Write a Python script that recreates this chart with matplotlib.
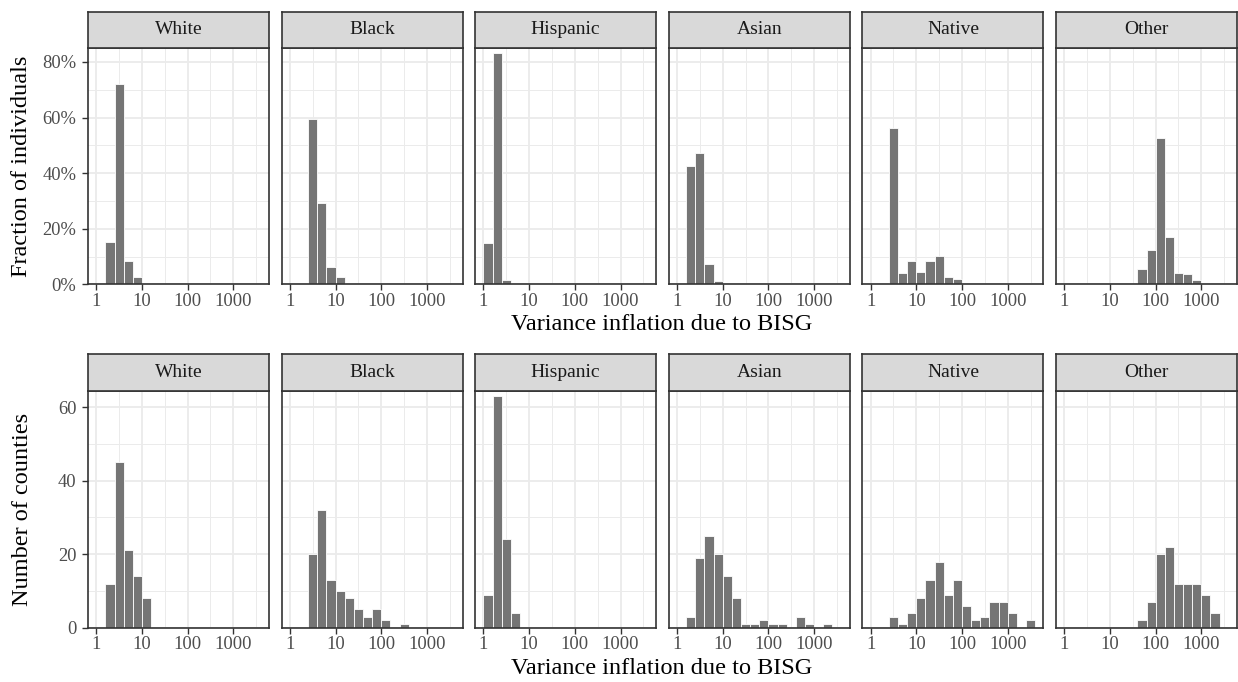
import numpy as np
import matplotlib
matplotlib.use("Agg")
import matplotlib.pyplot as plt

plt.rcParams['font.family'] = ['Liberation Serif', 'DejaVu Serif']

# groups shown in the facets
races = ['White', 'Black', 'Hispanic', 'Asian', 'Native', 'Other']

# left edges of the histogram bins, in log10(variance inflation)
log_bins = [0.0, 0.2, 0.4, 0.6, 0.8, 1.0, 1.2, 1.4, 1.6, 1.8,
            2.0, 2.2, 2.4, 2.6, 2.8, 3.0, 3.2, 3.4]
bin_width = 0.2

# top row: percent of individuals per bin
pct_white    = [0, 15.2, 72.0, 8.4, 2.7, 0.4, 0, 0, 0, 0, 0, 0, 0, 0, 0, 0, 0, 0]
pct_black    = [0, 0, 59.4, 29.3, 6.2, 2.5, 0.6, 0, 0, 0, 0, 0, 0, 0, 0, 0, 0, 0]
pct_hispanic = [14.7, 83.2, 1.4, 0, 0, 0, 0, 0, 0, 0, 0, 0, 0, 0, 0, 0, 0, 0]
pct_asian    = [0, 42.6, 47.2, 7.4, 1.2, 0.2, 0, 0, 0, 0, 0, 0, 0, 0, 0, 0, 0, 0]
pct_native   = [0, 0, 56.2, 4.1, 8.4, 4.6, 8.5, 10.3, 2.7, 1.8, 0, 0, 0, 0.1, 0, 0, 0, 0]
pct_other    = [0, 0, 0, 0, 0, 0, 0, 0, 5.6, 12.3, 52.5, 17.1, 4.1, 3.8, 1.6, 0.6, 0, 0]

# bottom row: number of counties per bin
cnt_white    = [0, 12, 45, 21, 14, 8, 0, 0, 0, 0, 0, 0, 0, 0, 0, 0, 0, 0]
cnt_black    = [0, 0, 20, 32, 13, 10, 8, 5, 3, 5, 2, 0, 1, 0, 0, 0, 0, 0]
cnt_hispanic = [9, 63, 24, 4, 0, 0, 0, 0, 0, 0, 0, 0, 0, 0, 0, 0, 0, 0]
cnt_asian    = [0, 3, 19, 25, 20, 14, 8, 1, 1, 2, 1, 1, 0, 3, 1, 0, 1, 0]
cnt_native   = [0, 0, 3, 1, 4, 8, 13, 18, 9, 13, 6, 2, 3, 7, 7, 4, 0, 2]
cnt_other    = [0, 0, 0, 0, 0, 0, 0, 0, 2, 7, 20, 22, 12, 12, 12, 9, 4, 0]

pct_rows = [pct_white, pct_black, pct_hispanic, pct_asian, pct_native, pct_other]
cnt_rows = [cnt_white, cnt_black, cnt_hispanic, cnt_asian, cnt_native, cnt_other]

x_ticks = [0, 1, 2, 3]
x_labels = ['1', '10', '100', '1000']

W, H = 1238, 682
fig = plt.figure(figsize=(W / 100, H / 100), dpi=100)


def box(x0, y0, x1, y1):
    # pixel box (top-left origin) -> figure fraction rect
    return [x0 / W, 1 - y1 / H, (x1 - x0) / W, (y1 - y0) / H]


bar_col = '#757575'
grid_col = '#EBEBEB'
frame_col = '#333333'
tick_txt = '#4D4D4D'

panel_left = 88
panel_step = 193.6
panel_w = 181

rows = [
    dict(data=pct_rows, strip=(12, 48), panel=(48, 284.3), ymax=85,
         yticks=[0, 20, 40, 60, 80], yminor=[10, 30, 50, 70],
         ylabels=['0%', '20%', '40%', '60%', '80%'],
         ytitle='Fraction of individuals', xtitle_y=325),
    dict(data=cnt_rows, strip=(354.3, 391.3), panel=(391.3, 627.7), ymax=64.3,
         yticks=[0, 20, 40, 60], yminor=[10, 30, 50],
         ylabels=['0', '20', '40', '60'],
         ytitle='Number of counties', xtitle_y=669),
]

for row in rows:
    for i, race in enumerate(races):
        x0 = panel_left + i * panel_step
        x1 = x0 + panel_w
        ax = fig.add_axes(box(x0, row['panel'][0], x1, row['panel'][1]))
        vals = row['data'][i]
        ax.bar(log_bins, vals, width=bin_width, align='edge', color=bar_col,
               edgecolor='white', linewidth=0.6, zorder=3)
        ax.set_xlim(-0.18, 3.78)
        ax.set_ylim(0, row['ymax'])
        for v in [0.5, 1.5, 2.5, 3.5]:
            ax.axvline(v, color=grid_col, lw=0.7, zorder=1)
        for v in row['yminor']:
            ax.axhline(v, color=grid_col, lw=0.7, zorder=1)
        for v in x_ticks:
            ax.axvline(v, color=grid_col, lw=1.3, zorder=1)
        for v in row['yticks']:
            ax.axhline(v, color=grid_col, lw=1.3, zorder=1)
        ax.set_xticks(x_ticks)
        ax.set_xticklabels(x_labels)
        ax.set_yticks(row['yticks'])
        if i == 0:
            ax.set_yticklabels(row['ylabels'])
            ax.tick_params(axis='y', length=4.3, width=1.0, color=frame_col,
                           labelsize=13.3, labelcolor=tick_txt, pad=4)
        else:
            ax.tick_params(axis='y', length=0, labelleft=False)
        ax.tick_params(axis='x', length=4.3, width=1.0, color=frame_col,
                       labelsize=13.3, labelcolor=tick_txt, pad=2)
        for s in ax.spines.values():
            s.set_color(frame_col)
            s.set_linewidth(1.2)
            s.set_zorder(5)

        # facet strip
        sx = fig.add_axes(box(x0, row['strip'][0], x1, row['strip'][1]))
        sx.set_facecolor('#D9D9D9')
        sx.set_xticks([])
        sx.set_yticks([])
        for s in sx.spines.values():
            s.set_color(frame_col)
            s.set_linewidth(1.2)
        sx.text(0.5, 0.5, race, ha='center', va='center', fontsize=14,
                color='#1A1A1A', transform=sx.transAxes)

    fig.text(662 / W, 1 - row['xtitle_y'] / H, 'Variance inflation due to BISG',
             ha='center', va='center', fontsize=17.5)
    yc = (row['panel'][0] + row['panel'][1]) / 2
    fig.text(22 / W, 1 - yc / H, row['ytitle'], ha='center', va='center',
             rotation=90, fontsize=17.5)

fig.savefig('out.png', dpi=100)
